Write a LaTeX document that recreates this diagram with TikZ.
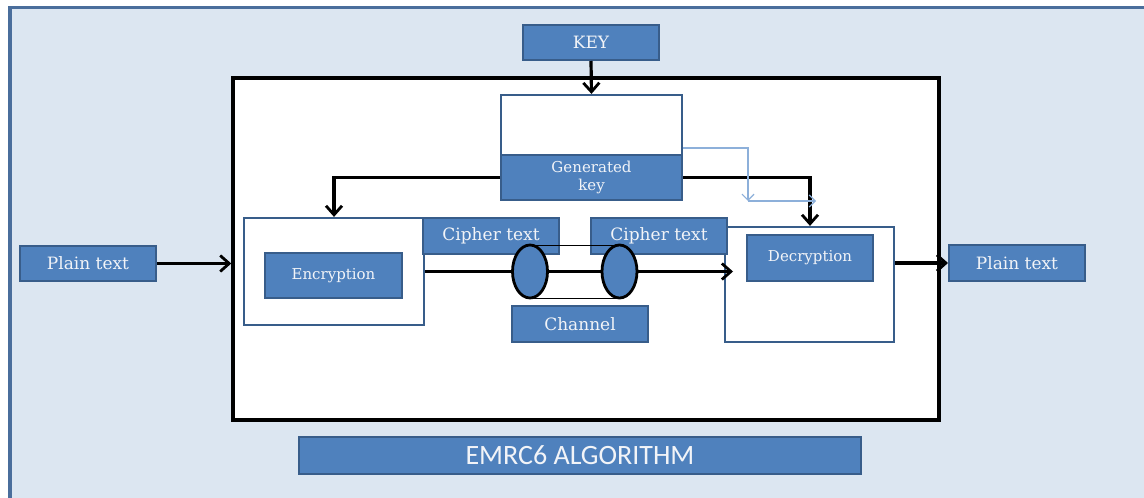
\documentclass[tikz,border=0pt]{standalone}
\usepackage{fontspec}
\setmainfont{DejaVu Serif}
\newfontfamily\calib{Carlito}
\usetikzlibrary{arrows.meta}
\definecolor{bgblue}{HTML}{DCE6F1}
\definecolor{frameblue}{HTML}{4A6E9C}
\definecolor{boxblue}{HTML}{4F81BD}
\definecolor{boxedge}{HTML}{385D8A}
\definecolor{txtw}{HTML}{F2F4F8}
\definecolor{thinblue}{HTML}{8DB0DA}
\tikzset{
  bluebox/.style={draw=boxedge, line width=2pt, fill=boxblue, text=txtw, inner sep=0pt},
  whitebox/.style={draw=boxedge, line width=2.2pt, fill=white, inner sep=0pt},
  lbl/.style={font=\fontsize{17}{19}\selectfont},
  slbl/.style={font=\fontsize{15}{18}\selectfont},
  arr/.style={line width=3.2pt, -{Straight Barb[length=9pt,width=16pt,line width=2.8pt]}},
  thinarr/.style={draw=thinblue, line width=1.2pt, -{Straight Barb[length=6pt,width=12pt]}},
  chan/.style={draw=black, line width=2.8pt, fill=boxblue}
}
\begin{document}
\begin{tikzpicture}[x=1pt,y=-1pt]
\useasboundingbox (0,0) rectangle (1144,498);
\clip (0,0) rectangle (1144,498);
% background panel
\fill[bgblue] (9,7) rectangle (1150,505);
\draw[frameblue, line width=3.5pt] (10,505) -- (10,7.5) -- (1150,7.5);
% main algorithm frame
\node[draw=black, line width=3.4pt, fill=white, inner sep=0pt, minimum width=706pt, minimum height=342pt] (frame) at (586,249) {};
% key
\node[bluebox, lbl, minimum width=136pt, minimum height=35pt] (key) at (591,42.5) {KEY};
% generated key box
\node[whitebox, minimum width=181pt, minimum height=105pt] (gen) at (591.5,147.5) {};
\node[bluebox, slbl, minimum width=181pt, minimum height=45pt, align=center] (genk) at (591.5,177.5) {Generated\\[0pt]key};
% encryption
\node[whitebox, minimum width=180pt, minimum height=107pt] (encO) at (334,271.5) {};
\node[bluebox, slbl, minimum width=137pt, minimum height=45pt] (enc) at (333.5,275.5) {Encryption};
% decryption
\node[whitebox, minimum width=169pt, minimum height=115pt] (decO) at (809.5,284.5) {};
\node[bluebox, slbl, minimum width=126pt, minimum height=46pt] (dec) at (810,258) {Decryption};
% cipher text boxes
\node[bluebox, lbl, minimum width=136pt, minimum height=36pt] (c1) at (491,236) {Cipher text};
\node[bluebox, lbl, minimum width=136pt, minimum height=36pt] (c2) at (659,236) {Cipher text};
% channel
\node[bluebox, lbl, minimum width=136pt, minimum height=36pt] (chb) at (580,324) {Channel};
% plain texts
\node[bluebox, lbl, minimum width=136pt, minimum height=35pt] (pl) at (88,263.5) {Plain text};
\node[bluebox, lbl, minimum width=136pt, minimum height=36pt] (pr) at (1017,263) {Plain text};
% title
\node[bluebox, font=\calib\fontsize{28}{30}\selectfont, minimum width=562pt, minimum height=37pt] (title) at (580,455.5) {EMRC6 ALGORITHM};
% channel cylinder
\coordinate (e1) at (530,271.5);
\coordinate (e2) at (619.5,271.5);
\draw[black, line width=1pt] (530,245) -- (619.5,245);
\draw[black, line width=1pt] (530,298) -- (619.5,298);
\draw[chan] (e1) ellipse [x radius=17.5pt, y radius=26.5pt];
\draw[chan] (e2) ellipse [x radius=17.5pt, y radius=26.5pt];
% main data arrow
\coordinate (encR) at (encO.east |- e1);
\coordinate (decL) at (733,271.5);
\draw[line width=3.2pt] (encR) -- ([xshift=-17.5pt]e1);
\draw[line width=3.2pt] ([xshift=17.5pt]e1) -- ([xshift=-17.5pt]e2);
\draw[arr] ([xshift=17.5pt]e2) -- (decL);
% key arrow
\draw[arr] (key.south) -- (gen.north);
% generated key to enc / dec
\draw[arr] (genk.west) -| (encO.north);
\draw[arr] (genk.east) -| (decO.north -| 810,0);
% thin blue arrows
\coordinate (tb1) at (748,148);
\coordinate (tb2) at (748,201);
\coordinate (tb3) at (816,201);
\draw[thinarr] (gen.east |- tb1) -- (tb1) -- (tb2);
\draw[thinarr] (tb2) -- (tb3);
% plain text arrows
\draw[arr] (pl.east) -- (pl.east -| frame.west);
\draw[arr] (decO.east |- pr.west) -- (pr.west);
\end{tikzpicture}
\end{document}
